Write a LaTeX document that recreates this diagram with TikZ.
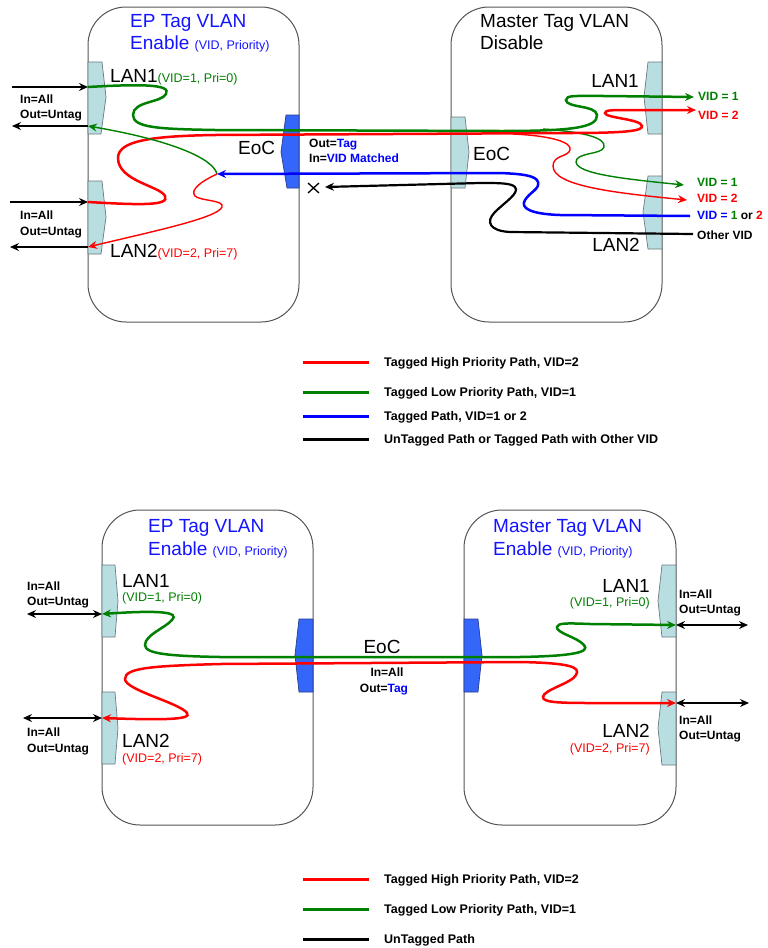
\documentclass[tikz,border=0pt]{standalone}
\usepackage{fontspec}
\setmainfont{Liberation Sans}
\usetikzlibrary{arrows.meta}
\definecolor{mygreen}{RGB}{0,128,0}
\definecolor{myred}{RGB}{255,0,0}
\definecolor{myblue}{RGB}{0,0,255}
\definecolor{titleblue}{RGB}{20,20,255}
\definecolor{portfill}{RGB}{184,222,226}
\definecolor{portedge}{RGB}{110,120,125}
\definecolor{eocfill}{RGB}{52,102,250}
\definecolor{eocedge}{RGB}{40,60,140}
\definecolor{boxline}{RGB}{85,85,85}
\tikzset{
  box/.style={draw=boxline,line width=1pt,fill=white,rounded corners=38pt},
  lport/.style={draw=portedge,line width=0.7pt,fill=portfill},
  eport/.style={draw=eocedge,line width=0.7pt,fill=eocfill},
  tk/.style={line width=2.5pt},
  tn/.style={line width=1.4pt},
  bk/.style={line width=2.2pt,black},
  tip/.style={-{Stealth[length=9pt,width=8pt,inset=3pt]}},
  tipb/.style={{Stealth[length=9pt,width=8pt,inset=3pt]}-{Stealth[length=9pt,width=8pt,inset=3pt]}},
  big/.style={font=\fontsize{19}{22}\selectfont,inner sep=0pt},
  lb/.style={font=\bfseries\fontsize{12}{14}\selectfont,inner sep=0pt},
  lg/.style={font=\bfseries\fontsize{12.5}{14}\selectfont,inner sep=0pt,anchor=base west},
  lgline/.style={line width=3pt},
}
\newcommand{\smf}{\fontsize{12.5}{14}\selectfont}
\begin{document}
\begin{tikzpicture}[x=1pt,y=-1pt]
\useasboundingbox (0,0) rectangle (768,948);
% ================= TOP DIAGRAM =================
\draw[box] (88,7) rectangle (299,322);
\draw[box] (451,7) rectangle (662,322);
% ports
\draw[lport] (88,62) -- (102,62) -- (106,97) -- (101,134) -- (88,134) -- cycle;
\draw[lport] (88,181) -- (102,181) -- (106,217) -- (101,254) -- (88,254) -- cycle;
\draw[eport] (299,115) -- (286,115) -- (281,152) -- (287,188) -- (299,188) -- cycle;
\draw[lport] (451,117) -- (465,117) -- (469,152) -- (465,188) -- (451,188) -- cycle;
\draw[lport] (662,62) -- (648,62) -- (644,97) -- (648,134) -- (662,134) -- cycle;
\draw[lport] (662,176) -- (648,176) -- (643,212) -- (648,249) -- (662,249) -- cycle;
% coordinates
\coordinate (a1) at (12,87);  \coordinate (p1i) at (88,87);
\coordinate (p1o) at (88,126); \coordinate (a2) at (12,126);
\coordinate (a3) at (10,202); \coordinate (p2i) at (88,202);
\coordinate (p2o) at (88,247); \coordinate (a4) at (10,247);
\coordinate (g1e) at (694,97); \coordinate (gbr) at (543,129); \coordinate (g2e) at (684,185);
\coordinate (r1e) at (696,110); \coordinate (rbr) at (513,134); \coordinate (r2e) at (687,200);
\coordinate (b1s) at (690,216); \coordinate (bsplit) at (217,174);
\coordinate (k1s) at (693,234); \coordinate (kx) at (325,187);
% black in/out arrows
\draw[bk,tip] (a1) -- (p1i);
\draw[bk,tip] (p1o) -- (a2);
\draw[bk,tip] (a3) -- (p2i);
\draw[bk,tip] (p2o) -- (a4);
% thick green
\draw[tk,mygreen,tip] (p1i) .. controls (140,84) and (172,84) .. (166,94)
  .. controls (161,103) and (133,101) .. (133,115)
  .. controls (133,128) and (160,129) .. (215,130) -- (500,131)
  .. controls (570,131) and (598,128) .. (597,115)
  .. controls (596,105) and (566,108) .. (566,100)
  .. controls (566,95) and (575,96) .. (605,96) -- (g1e);
% thin green right
\draw[tn,mygreen,tip] (gbr) .. controls (585,132) and (606,138) .. (604,147)
  .. controls (602,155) and (576,152) .. (576,162)
  .. controls (577,174) and (625,179) .. (g2e);
% thick red
\draw[tk,myred,tip] (p2i) .. controls (140,205) and (170,206) .. (165,196)
  .. controls (160,186) and (118,181) .. (118,158)
  .. controls (118,141) and (150,136) .. (215,135) -- (570,133)
  .. controls (625,133) and (643,131) .. (642,126)
  .. controls (641,119) and (605,118) .. (605,113)
  .. controls (605,110) and (612,110) .. (630,110) -- (r1e);
% thin red right
\draw[tn,myred,tip] (rbr) .. controls (555,136) and (572,143) .. (570,150)
  .. controls (568,157) and (553,155) .. (553,166)
  .. controls (553,186) and (615,193) .. (r2e);
% blue
\draw[tk,myblue,tip] (b1s) -- (560,215) .. controls (530,214) and (520,208) .. (525,200)
  .. controls (530,192) and (540,189) .. (538,182)
  .. controls (536,176) and (525,174) .. (500,173) -- (bsplit);
% thin green left
\draw[tn,mygreen,tip] (bsplit) .. controls (213,158) and (170,140) .. (p1o);
% thin red left
\draw[tn,myred,tip] (bsplit) .. controls (200,182) and (190,190) .. (195,196)
  .. controls (200,201) and (225,200) .. (222,207)
  .. controls (218,218) and (150,232) .. (p2o);
% black other VID
\draw[bk,tip] (k1s) -- (510,232) .. controls (490,231) and (485,222) .. (495,212)
  .. controls (505,202) and (520,193) .. (515,187)
  .. controls (511,183) and (500,183) .. (480,183) -- (kx);
% X mark
\draw[line width=1.3pt] (308,183) -- (319,193) (308,193) -- (319,183);
% labels top
\node[big,titleblue,anchor=base west] (t1) at (130,27) {EP Tag VLAN};
\node[big,titleblue,anchor=base west] (t2) at (130,49) {Enable {\smf (VID, Priority)}};
\node[big,anchor=base west] (t3) at (110,82) {LAN1\textcolor{mygreen}{\smf(VID=1, Pri=0)}};
\node[big,anchor=base west] (t4) at (110,257) {LAN2\textcolor{myred}{\smf(VID=2, Pri=7)}};
\node[lb,anchor=base west] (t5) at (20,103) {In=All};
\node[lb,anchor=base west] (t6) at (20,118) {Out=Untag};
\node[lb,anchor=base west] (t7) at (20,219) {In=All};
\node[lb,anchor=base west] (t8) at (20,235) {Out=Untag};
\node[big,anchor=base west] (t9) at (238,154) {EoC};
\node[lb,anchor=base west] (t10) at (309,147) {Out=\textcolor{myblue}{Tag}};
\node[lb,anchor=base west] (t11) at (309,162) {In=\textcolor{myblue}{VID Matched}};
\node[big,anchor=base west] (t12) at (480,27) {Master Tag VLAN};
\node[big,anchor=base west] (t13) at (480,49) {Disable};
\node[big,anchor=base east] (t14) at (639,87) {LAN1};
\node[big,anchor=base west] (t15) at (473,160) {EoC};
\node[big,anchor=base east] (t16) at (640,251) {LAN2};
\node[lb,anchor=base west,mygreen] (t17) at (698,100) {VID = 1};
\node[lb,anchor=base west,myred] (t18) at (698,119) {VID = 2};
\node[lb,anchor=base west,mygreen] (t19) at (697,186) {VID = 1};
\node[lb,anchor=base west,myred] (t20) at (697,202) {VID = 2};
\node[lb,anchor=base west] (t21) at (697,219) {\textcolor{myblue}{VID =} \textcolor{mygreen}{1} or \textcolor{myred}{2}};
\node[lb,anchor=base west] (t22) at (697,239) {Other VID};
% legend top
\draw[lgline,myred] (303,362) -- (369,362);
\draw[lgline,mygreen] (303,392) -- (369,392);
\draw[lgline,myblue] (303,416) -- (369,416);
\draw[lgline,black] (303,439) -- (369,439);
\node[lg] (l1) at (384,366) {Tagged High Priority Path, VID=2};
\node[lg] (l2) at (384,396) {Tagged Low Priority Path, VID=1};
\node[lg] (l3) at (384,420) {Tagged Path, VID=1 or 2};
\node[lg] (l4) at (384,443) {UnTagged Path or Tagged Path with Other VID};
% ================= BOTTOM DIAGRAM =================
\draw[box] (102,510) rectangle (313,825);
\draw[box] (464,510) rectangle (676,825);
\draw[lport] (102,565) -- (115,565) -- (118,601) -- (115,637) -- (102,637) -- cycle;
\draw[lport] (102,692) -- (115,692) -- (118,728) -- (115,764) -- (102,764) -- cycle;
\draw[eport] (313,619) -- (299,619) -- (295,655) -- (299,692) -- (313,692) -- cycle;
\draw[eport] (464,619) -- (478,619) -- (482,655) -- (478,692) -- (464,692) -- cycle;
\draw[lport] (676,565) -- (662,565) -- (658,601) -- (662,637) -- (676,637) -- cycle;
\draw[lport] (676,692) -- (662,692) -- (658,728) -- (662,765) -- (676,765) -- cycle;
\coordinate (c1) at (27,614);  \coordinate (q1) at (102,614);
\coordinate (c2) at (23,718);  \coordinate (q2) at (102,718);
\coordinate (q3) at (676,625); \coordinate (c3) at (748,625);
\coordinate (q4) at (676,703); \coordinate (c4) at (749,703);
\draw[bk,tipb] (c1) -- (q1);
\draw[bk,tipb] (c2) -- (q2);
\draw[bk,tipb] (q3) -- (c3);
\draw[bk,tipb] (q4) -- (c4);
\draw[tk,mygreen,tipb] (q1) .. controls (160,610) and (180,612) .. (172,620)
  .. controls (165,628) and (145,635) .. (145,645)
  .. controls (145,654) and (170,656) .. (220,657) -- (520,657)
  .. controls (575,656) and (590,652) .. (584,645)
  .. controls (577,637) and (556,633) .. (557,627)
  .. controls (558,623) and (565,623) .. (590,624) -- (q3);
\draw[tk,myred,tipb] (q2) .. controls (160,720) and (193,720) .. (187,713)
  .. controls (180,703) and (125,690) .. (125,679)
  .. controls (125,668) and (150,666) .. (220,664) -- (520,662)
  .. controls (570,663) and (581,667) .. (576,675)
  .. controls (572,683) and (543,690) .. (543,697)
  .. controls (543,702) and (555,703) .. (590,703) -- (q4);
\node[big,titleblue,anchor=base west] (u1) at (148,532) {EP Tag VLAN};
\node[big,titleblue,anchor=base west] (u2) at (148,555) {Enable {\smf (VID, Priority)}};
\node[big,titleblue,anchor=base west] (u3) at (493,532) {Master Tag VLAN};
\node[big,titleblue,anchor=base west] (u4) at (493,555) {Enable {\smf (VID, Priority)}};
\node[big,anchor=base west] (u5) at (122,587) {LAN1};
\node[anchor=base west,inner sep=0pt,font=\smf,mygreen] (u6) at (122,601) {(VID=1, Pri=0)};
\node[big,anchor=base west] (u7) at (122,747) {LAN2};
\node[anchor=base west,inner sep=0pt,font=\smf,myred] (u8) at (122,762) {(VID=2, Pri=7)};
\node[lb,anchor=base west] (u9) at (27,590) {In=All};
\node[lb,anchor=base west] (u10) at (27,605) {Out=Untag};
\node[lb,anchor=base west] (u11) at (27,736) {In=All};
\node[lb,anchor=base west] (u12) at (27,752) {Out=Untag};
\node[big,anchor=base] (u13) at (382,653) {EoC};
\node[lb,anchor=base] (u14) at (387,676) {In=All};
\node[lb,anchor=base] (u15) at (384,692) {Out=\textcolor{myblue}{Tag}};
\node[big,anchor=base east] (u16) at (650,592) {LAN1};
\node[anchor=base east,inner sep=0pt,font=\smf,mygreen] (u17) at (650,606) {(VID=1, Pri=0)};
\node[big,anchor=base east] (u18) at (650,737) {LAN2};
\node[anchor=base east,inner sep=0pt,font=\smf,myred] (u19) at (650,752) {(VID=2, Pri=7)};
\node[lb,anchor=base west] (u20) at (679,598) {In=All};
\node[lb,anchor=base west] (u21) at (679,613) {Out=Untag};
\node[lb,anchor=base west] (u22) at (679,724) {In=All};
\node[lb,anchor=base west] (u23) at (679,739) {Out=Untag};
% legend bottom
\draw[lgline,myred] (303,879) -- (369,879);
\draw[lgline,mygreen] (303,909) -- (369,909);
\draw[lgline,black] (303,939) -- (369,939);
\node[lg] (m1) at (384,883) {Tagged High Priority Path, VID=2};
\node[lg] (m2) at (384,913) {Tagged Low Priority Path, VID=1};
\node[lg] (m3) at (384,943) {UnTagged Path};
\end{tikzpicture}
\end{document}
